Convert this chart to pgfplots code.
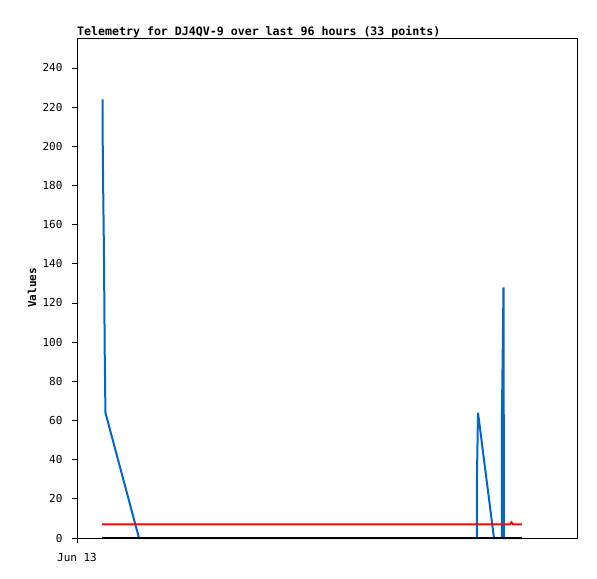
\documentclass[border=0pt]{standalone}
\usepackage{fontspec}
\setmainfont{DejaVu Sans Mono}
\usepackage{pgfplots}
\pgfplotsset{compat=1.18}

\definecolor{tblue}{RGB}{0,102,204}

\begin{document}
\begin{tikzpicture}[x=1bp,y=1bp]
\path[use as bounding box] (-77bp,-41bp) rectangle (520bp,538bp);
\begin{axis}[
    at={(0,0)}, anchor=south west,
    scale only axis,
    width=500bp, height=500bp,
    xmin=0, xmax=114.29,
    ymin=0, ymax=255.3,
    xtick={0}, xticklabels={Jun 13},
    ytick={0,20,...,240},
    xtick pos=bottom, ytick pos=left,
    tick align=outside,
    major tick length=5bp,
    axis line style={line width=0.8bp},
    tick style={black, line width=0.8bp},
    /pgf/number format/assume math mode=true,
    ticklabel style={font=\fontsize{11bp}{13bp}\selectfont},
    yticklabel style={xshift=-6bp},
    xticklabel style={yshift=-7bp},
    ylabel={\textbf{Values}},
    ylabel style={font=\fontsize{11bp}{13bp}\selectfont, at={(rel axis cs:0,0.5)}, anchor=center, yshift=45bp},
    title={\textbf{Telemetry for DJ4QV-9 over last 96 hours (33 points)}},
    title style={font=\fontsize{11.6bp}{13bp}\selectfont, at={(rel axis cs:0,1)}, anchor=south west, inner sep=0pt, yshift=-6bp},
    clip=false,
]
\addplot[tblue, line width=2bp, line join=miter] coordinates {
    (5.83,224) (5.85,208) (6.00,176) (6.17,144) (6.33,96) (6.50,64)
    (14.17,0) (40,0) (70,0) (91.40,0) (91.43,32) (91.66,64) (95.31,0)
    (97.10,0) (97.14,64) (97.49,128) (97.60,0) (101.71,0)
};
\addplot[red, line width=2bp] coordinates {
    (5.71,7) (20,7) (40,7) (60,7) (80,7) (98.97,7) (99.31,8) (99.66,7) (101.71,7)
};
\addplot[black, line width=2bp] coordinates {
    (5.71,0) (30,0) (60,0) (90,0) (101.71,0)
};
\end{axis}
\end{tikzpicture}
\end{document}
